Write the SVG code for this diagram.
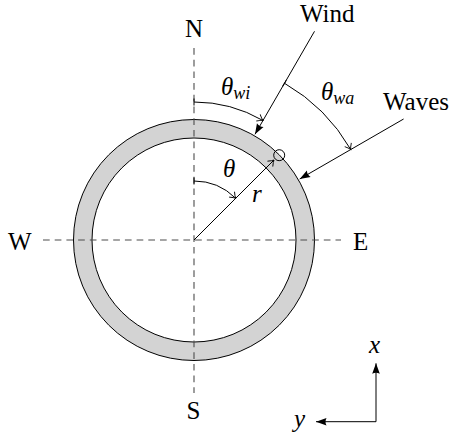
<svg xmlns="http://www.w3.org/2000/svg" width="452" height="434" viewBox="0 0 452 434">
<style>
.t{font-family:"Liberation Serif","Times New Roman",serif;font-size:25px;fill:#000}
.it{font-style:italic}
.sub{font-size:18px}
.ln{fill:none;stroke:#000;stroke-width:1}
.dash{fill:none;stroke:#4d4d4d;stroke-width:1.1;stroke-dasharray:6.7 5}
</style>
<defs>
<marker id="fill" markerUnits="userSpaceOnUse" markerWidth="14" markerHeight="10" viewBox="-11 -5 12 10" refX="0" refY="0" orient="auto">
<path d="M0,0 L-10.5,-3.8 Q-8.5,0 -10.5,3.8 Z" fill="#000"/>
</marker>
<marker id="open" markerUnits="userSpaceOnUse" markerWidth="10" markerHeight="10" viewBox="-7 -5 8 10" refX="0" refY="0" orient="auto">
<path d="M-5.5,-3.8 Q-2,-0.8 0,0 Q-2,0.8 -5.5,3.8" fill="none" stroke="#000" stroke-width="0.9"/>
</marker>
<marker id="bar" markerUnits="userSpaceOnUse" markerWidth="4" markerHeight="10" viewBox="-2 -5 4 10" refX="0" refY="0" orient="auto">
<path d="M0,-3.6 L0,3.6" stroke="#000" stroke-width="1"/>
</marker>
</defs>
<rect width="452" height="434" fill="#fff"/>
<g id="ring">
<circle cx="194" cy="240" r="120.5" fill="#d3d3d3" stroke="#000" stroke-width="1"/>
<circle cx="194" cy="240" r="102" fill="#fff" stroke="#000" stroke-width="1"/>
</g>
<g id="compass-axes">
<line class="dash" x1="194" y1="48" x2="194" y2="393"/>
<line class="dash" x1="43" y1="240" x2="341" y2="240"/>
</g>
<g id="point">
<circle cx="279.2" cy="155.2" r="5.5" fill="none" stroke="#000" stroke-width="1"/>
</g>
<g id="connectors">
<line class="ln" x1="314.5" y1="31.3" x2="255" y2="134.3" marker-end="url(#fill)"/>
<line class="ln" x1="403.6" y1="119" x2="299.7" y2="179" marker-end="url(#fill)"/>
<line class="ln" x1="194" y1="240" x2="274" y2="160" marker-end="url(#open)"/>
<path class="ln" d="M194,102 A138,138 0 0 1 263,120.5" marker-start="url(#bar)" marker-end="url(#open)"/>
<path class="ln" d="M284.5,83.25 A181,181 0 0 1 350.75,149.5" marker-start="url(#bar)" marker-end="url(#open)"/>
<path class="ln" d="M194,181 A59,59 0 0 1 235.7,198.3" marker-start="url(#bar)" marker-end="url(#open)"/>
<line class="ln" x1="376" y1="421.7" x2="376" y2="363.3" marker-end="url(#fill)"/>
<line class="ln" x1="376" y1="421.7" x2="316" y2="421.7" marker-end="url(#fill)"/>
</g>
<g id="labels">
<text class="t" x="194" y="36.7" text-anchor="middle">N</text>
<text class="t" x="193.5" y="419.3" text-anchor="middle">S</text>
<text class="t" x="8" y="249.5">W</text>
<text class="t" x="353" y="249.5">E</text>
<text class="t" x="300" y="21.7">Wind</text>
<text class="t" x="383" y="110">Waves</text>
<text class="t it" x="221" y="95">θ<tspan class="sub" dy="3.5">wi</tspan></text>
<text class="t it" x="321" y="100">θ<tspan class="sub" dy="3.5">wa</tspan></text>
<text class="t it" x="223" y="176.7">θ</text>
<text class="t it" x="252" y="201.7">r</text>
<text class="t it" x="369" y="352.7">x</text>
<text class="t it" x="294" y="426.5">y</text>
</g>
</svg>
